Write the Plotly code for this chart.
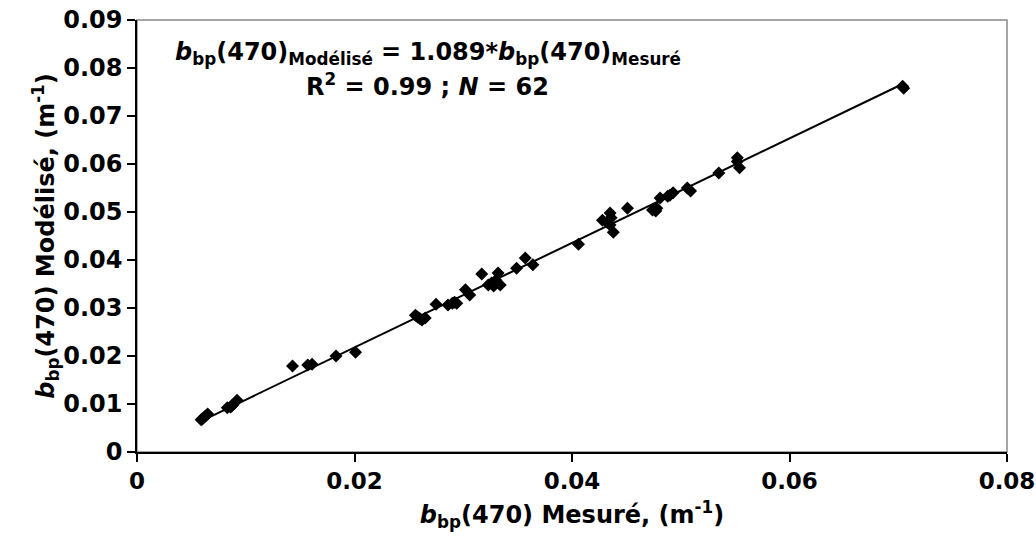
import plotly.graph_objects as go

mesure = [
    0.0059, 0.0061, 0.0063, 0.0065, 0.0060,
    0.0083, 0.0086, 0.0088, 0.0092, 0.0087,
    0.0143, 0.0157, 0.0161, 0.0183, 0.0201,
    0.0256, 0.0258, 0.0262, 0.0265, 0.0260,
    0.0275, 0.0286, 0.0290, 0.0294, 0.0292,
    0.0302, 0.0306, 0.0317,
    0.0323, 0.0326, 0.0329, 0.0332, 0.0334, 0.0330, 0.0328,
    0.0349, 0.0357, 0.0364,
    0.0406,
    0.0428, 0.0432, 0.0435, 0.0435, 0.0438, 0.0436,
    0.0451,
    0.0474, 0.0478, 0.0476, 0.0477,
    0.0481, 0.0488, 0.0490, 0.0493,
    0.0506, 0.0509,
    0.0535,
    0.0552, 0.0554, 0.0552,
    0.0705, 0.0704,
]
modelise = [
    0.0067, 0.0071, 0.0075, 0.0079, 0.0069,
    0.0092, 0.0094, 0.0098, 0.0108, 0.0096,
    0.0179, 0.0181, 0.0183, 0.0200, 0.0208,
    0.0285, 0.0281, 0.0275, 0.0279, 0.0278,
    0.0308, 0.0306, 0.0310, 0.0310, 0.0312,
    0.0338, 0.0327, 0.0371,
    0.0348, 0.0352, 0.0354, 0.0373, 0.0348, 0.0358, 0.0346,
    0.0383, 0.0404, 0.0390,
    0.0433,
    0.0483, 0.0479, 0.0498, 0.0473, 0.0458, 0.0488,
    0.0508,
    0.0504, 0.0508, 0.0506, 0.0502,
    0.0529, 0.0533, 0.0535, 0.0540,
    0.0550, 0.0544,
    0.0581,
    0.0613, 0.0592, 0.0605,
    0.0758, 0.0762,
]
pente = 1.089
x_ticks = [0, 0.02, 0.04, 0.06, 0.08]
x_labels = ["0", "0.02", "0.04", "0.06", "0.08"]
y_ticks = [0, 0.01, 0.02, 0.03, 0.04, 0.05, 0.06, 0.07, 0.08, 0.09]
y_labels = ["0", "0.01", "0.02", "0.03", "0.04", "0.05", "0.06", "0.07", "0.08", "0.09"]

FONT = "DejaVu Sans"
SIZE = 24

# trend line through origin, drawn over the data span
x_fit = [min(mesure), max(mesure)]
y_fit = [pente * v for v in x_fit]

fig = go.Figure()
fig.add_trace(
    go.Scatter(
        x=mesure,
        y=modelise,
        mode="markers",
        marker={"symbol": "diamond", "size": 10, "color": "black"},
        showlegend=False,
    )
)
fig.add_trace(
    go.Scatter(
        x=x_fit,
        y=y_fit,
        mode="lines",
        line={"color": "black", "width": 2},
        showlegend=False,
    )
)

bold = {"family": FONT, "size": SIZE, "color": "black", "weight": "bold"}

axis_common = {
    "showgrid": False,
    "zeroline": False,
    "showline": True,
    "linecolor": "black",
    "linewidth": 1.5,
    "ticks": "outside",
    "ticklen": 8,
    "tickwidth": 1.5,
    "tickcolor": "black",
    "tickfont": bold,
    "automargin": False,
}

fig.update_layout(
    width=1036,
    height=538,
    plot_bgcolor="white",
    paper_bgcolor="white",
    margin={"l": 137, "r": 29, "t": 20, "b": 86},
    font={"family": FONT, "color": "black"},
    xaxis={
        **axis_common,
        "range": [0, 0.08],
        "tickvals": x_ticks,
        "ticktext": x_labels,
        "tickfont": {**bold, "size": 23},
        "ticklabeloverflow": "allow",
        "title": {
            "text": "<i>b</i><sub>bp</sub>(470) Mesuré, (m<sup>-1</sup>)",
            "font": bold,
            "standoff": 13,
        },
    },
    yaxis={
        **axis_common,
        "range": [0, 0.09],
        "tickvals": y_ticks,
        "ticktext": y_labels,
        "title": {
            "text": "<i>b</i><sub>bp</sub>(470) Modélisé, (m<sup>-1</sup>)",
            "font": bold,
            "standoff": 0,
        },
    },
    shapes=[
        {
            "type": "rect",
            "xref": "paper",
            "yref": "paper",
            "x0": 0,
            "x1": 1,
            "y0": 0,
            "y1": 1,
            "line": {"color": "#888888", "width": 1.5},
            "layer": "below",
        }
    ],
    annotations=[
        {
            "text": "<i>b</i><sub>bp</sub>(470)<sub>Modélisé</sub> = 1.089*"
            "<i>b</i><sub>bp</sub>(470)<sub>Mesuré</sub>",
            "x": 0.334,
            "xref": "paper",
            "xanchor": "center",
            "y": 0.922,
            "yref": "paper",
            "yanchor": "middle",
            "showarrow": False,
            "font": bold,
        },
        {
            "text": "R<sup>2</sup> = 0.99 ; <i>N</i> = 62",
            "x": 0.334,
            "xref": "paper",
            "xanchor": "center",
            "y": 0.85,
            "yref": "paper",
            "yanchor": "middle",
            "showarrow": False,
            "font": bold,
        },
    ],
)

# drop the browser's default page margin so the figure sits at the window corner
fig.write_html(
    "out.html",
    config={"displayModeBar": False},
    post_script="document.body.style.margin='0';",
)
